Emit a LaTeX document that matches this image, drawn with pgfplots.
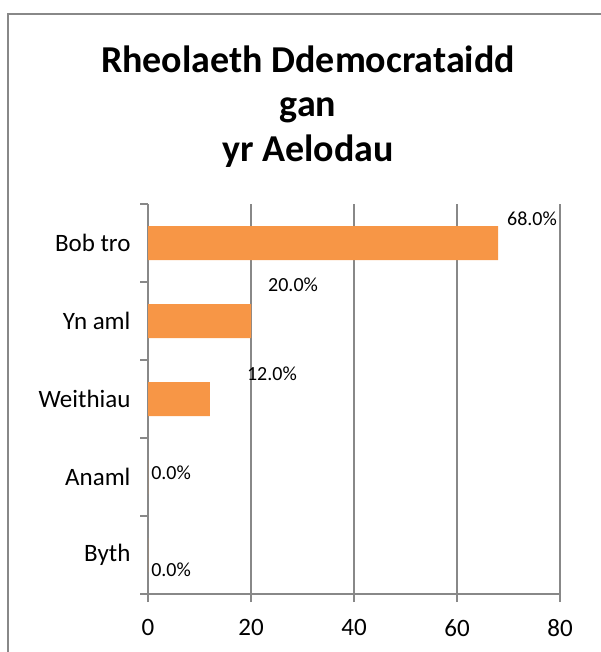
\documentclass[border=0pt]{standalone}
\usepackage{pgfplots}
\pgfplotsset{compat=1.18}
\usepackage{fontspec}
\setmainfont{Carlito}
\definecolor{barorange}{HTML}{F79646}
\definecolor{axgray}{HTML}{888888}

\begin{document}
\begin{tikzpicture}[x=1pt,y=1pt]
\useasboundingbox (0,0) rectangle (600,-652);
% chart frame (runs past the right and bottom edges)
\draw[axgray, line width=2pt] (8,-700) -- (8,-14) -- (700,-14);
% title
\node[anchor=base, font=\bfseries\fontsize{38}{44}\selectfont] at (308,-73) {Rheolaeth Ddemocrataidd};
\node[anchor=base, font=\bfseries\fontsize{38}{44}\selectfont] at (308,-117) {gan};
\node[anchor=base, font=\bfseries\fontsize{38}{44}\selectfont] at (308,-162) {yr Aelodau};

\begin{axis}[
    at={(148pt,-594pt)}, anchor=south west,
    width=412pt, height=390pt, scale only axis,
    xmin=0, xmax=80, xtick={0,20,...,80},
    ymin=-0.5, ymax=4.5,
    ytick={0,1,2,3,4},
    yticklabels={Byth,Anaml,Weithiau,Yn aml,Bob tro},
    axis x line=bottom, axis y line=left,
    axis line style={-, axgray, line width=1.5pt},
    xmajorgrids, major grid style={axgray, line width=1.5pt},
    tick align=outside, major tick length=8pt,
    xtick style={axgray, line width=1.5pt},
    ytick style={draw=none},
    extra y ticks={-0.5,0.5,1.5,2.5,3.5,4.5},
    extra y tick labels={},
    extra y tick style={ytick style={draw=axgray, line width=1.5pt}, major tick length=8pt},
    ticklabel style={font=\fontsize{25}{30}\selectfont, black},
    xticklabel style={yshift=-14pt},
    yticklabel style={xshift=-6pt},
    /pgf/number format/assume math mode=true,
    clip=false,
]
\addplot[xbar, bar width=34pt, fill=barorange, draw=none] coordinates {
    (68,4) (20,3) (12,2) (0,1) (0,0)
};
% data labels, placed where the reference puts them
\addplot[only marks, mark=none,
    nodes near coords={\pgfmathprintnumber[fixed,fixed zerofill,precision=1]{\pgfplotspointmeta}\%},
    point meta=explicit,
    nodes near coords style={anchor=west, inner sep=0pt, font=\fontsize{20}{24}\selectfont, black},
] table[meta=v] {
    x    y     v
    69.7 4.31  68
    23.3 3.47  20
    19.2 2.32  12
    0.6  1.05  0
    0.6  -0.19 0
};
\end{axis}
\end{tikzpicture}
\end{document}
